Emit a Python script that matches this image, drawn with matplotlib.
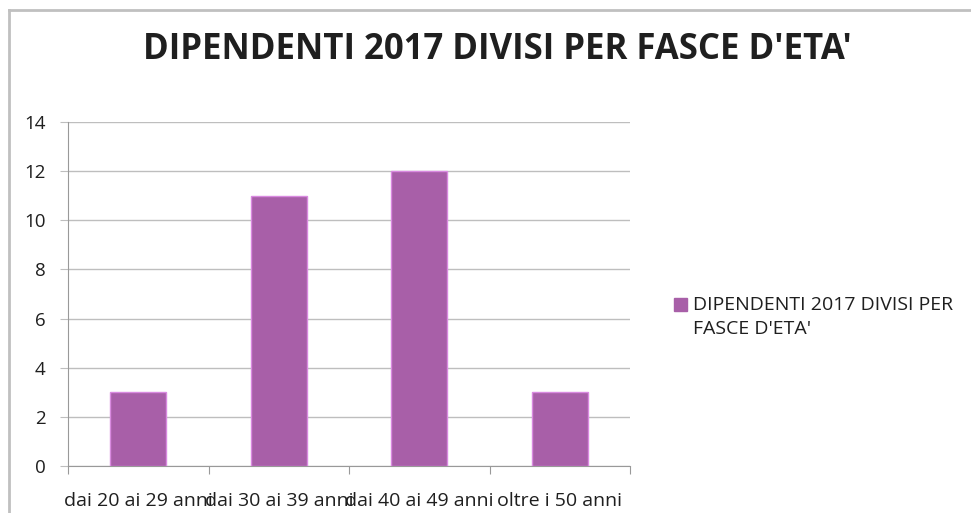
import matplotlib.pyplot as plt
from matplotlib.patches import Rectangle

categories = ["dai 20 ai 29 anni", "dai 30 ai 39 anni", "dai 40 ai 49 anni", "oltre i 50 anni"]
values = [3, 11, 12, 3]
series_name = "DIPENDENTI 2017 DIVISI PER\nFASCE D'ETA'"
title = "DIPENDENTI 2017 DIVISI PER FASCE D'ETA'"

plt.rcParams['font.family'] = ['Open Sans', 'DejaVu Sans']

fig = plt.figure(figsize=(9.71, 5.13), dpi=100)
ax = fig.add_axes([0.070, 0.0916, 0.579, 0.6706])

x = list(range(len(categories)))
ax.bar(x, values, width=0.4, color="#A85FA8", edgecolor="#D98AE0", linewidth=1, zorder=3)

ax.set_xlim(-0.5, len(categories) - 0.5)
ax.set_ylim(0, 14)
ax.set_yticks(range(0, 15, 2))
ax.yaxis.grid(True, color="#BEBEBE", linewidth=1, zorder=0)
ax.set_xticks([i - 0.5 for i in range(len(categories) + 1)], minor=False)
ax.set_xticklabels([])
ax.set_xticks(x, minor=True)
ax.set_xticklabels(categories, minor=True, fontsize=14, color="#1F1F1F")
ax.tick_params(axis='x', which='minor', length=0, pad=19)
ax.tick_params(axis='x', which='major', length=6, color="#999999", direction='out')
ax.tick_params(axis='y', length=6, color="#BEBEBE", labelsize=13.5, labelcolor="#1F1F1F", pad=10)

for s in ["top", "right"]:
    ax.spines[s].set_visible(False)
ax.spines["left"].set_color("#999999")
ax.spines["bottom"].set_color("#999999")

fig.text(0.512, 0.902, title, ha="center", va="center", fontsize=25, fontweight="bold", color="#1F1F1F")

# legend
fig.patches.append(Rectangle((674 / 971, 1 - 311 / 513), 13 / 971, 13 / 513,
                             transform=fig.transFigure, color="#A85FA8", figure=fig))
fig.text(693 / 971, 1 - 317 / 513, series_name, ha="left", va="center", fontsize=14,
         color="#1F1F1F", linespacing=1.4)

# chart border
fig.add_artist(plt.Line2D([9 / 971, 9 / 971], [0, 1 - 10 / 513], transform=fig.transFigure,
                          color="#C0C0C0", linewidth=2))
fig.add_artist(plt.Line2D([9 / 971, 1], [1 - 10 / 513, 1 - 10 / 513], transform=fig.transFigure,
                          color="#C0C0C0", linewidth=2))

fig.savefig("out.png", dpi=100)
